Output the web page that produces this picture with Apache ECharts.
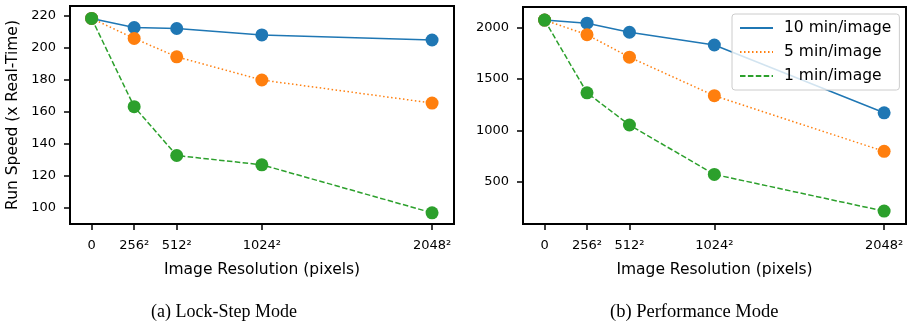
<!DOCTYPE html>
<html><head><meta charset="utf-8">
<script src="https://cdn.jsdelivr.net/npm/echarts@6/dist/echarts.min.js"></script>
<style>html,body{margin:0;padding:0;background:#fff}#c{width:908px;height:325px}</style>
</head><body><div id="c"></div>
<script>
const resolutions = [0, 256, 512, 1024, 2048];
const xTickLabels = ['0', '256²', '512²', '1024²', '2048²'];
const seriesNames = ['10 min/image', '5 min/image', '1 min/image'];
const lockStep10 = [218.5, 212.8, 212.2, 208.2, 205.0];
const lockStep5  = [218.5, 206.0, 194.5, 180.0, 165.6];
const lockStep1  = [218.5, 163.3, 132.8, 127.0, 97.0];
const perf10 = [2070, 2040, 1952, 1828, 1170];
const perf5  = [2070, 1928, 1710, 1336, 796];
const perf1  = [2070, 1364, 1052, 572, 216];
const leftYTicks = [100, 120, 140, 160, 180, 200, 220];
const rightYTicks = [500, 1000, 1500, 2000];
const captions = ['(a) Lock-Step Mode', '(b) Performance Mode'];

const colors = ['#1f77b4', '#ff7f0e', '#2ca02c'];
const dashes = ['solid', [1.5, 2.5], [5.5, 2.4]];
const font = 'DejaVu Sans';

function xAxis(gi) {
  return {
    type: 'value', gridIndex: gi, min: -130, max: 2180,
    name: 'Image Resolution (pixels)', nameLocation: 'middle', nameGap: 38,
    nameTextStyle: {fontFamily: font, fontSize: 15.5, color: '#000'},
    axisLine: {show: true, onZero: false, lineStyle: {color: '#000', width: 2}},
    axisTick: {show: true, inside: false, length: 6, lineStyle: {color: '#000', width: 1.5}, customValues: resolutions},
    axisLabel: {fontFamily: font, fontSize: 13, color: '#000', margin: 15,
      customValues: resolutions,
      formatter: v => xTickLabels[resolutions.indexOf(v)]},
    splitLine: {show: false}
  };
}
function yAxis(gi, min, max, ticks, name) {
  return {
    type: 'value', gridIndex: gi, min: min, max: max,
    name: name || '', nameLocation: 'middle', nameGap: 49,
    nameTextStyle: {fontFamily: font, fontSize: 15.5, color: '#000'},
    axisLine: {show: true, onZero: false, lineStyle: {color: '#000', width: 2}},
    axisTick: {show: true, inside: false, length: 6, lineStyle: {color: '#000', width: 1.5}, customValues: ticks},
    axisLabel: {fontFamily: font, fontSize: 13, color: '#000', margin: 14, customValues: ticks,
      formatter: v => String(v)},
    splitLine: {show: false}
  };
}
function series(gi, idx, vals) {
  return {
    type: 'line', name: seriesNames[idx], xAxisIndex: gi, yAxisIndex: gi,
    data: resolutions.map((r, i) => [r, vals[i]]),
    symbol: 'circle', symbolSize: 13,
    itemStyle: {color: colors[idx]},
    lineStyle: {color: colors[idx], width: 1.5, type: dashes[idx]},
    animation: false
  };
}

const chart = echarts.init(document.getElementById('c'));
chart.setOption({
  animation: false,
  grid: [
    {left: 70, top: 6, width: 384, height: 218, show: true, borderColor: '#000', borderWidth: 2, backgroundColor: 'transparent'},
    {left: 523, top: 7, width: 383, height: 217, show: true, borderColor: '#000', borderWidth: 2, backgroundColor: 'transparent'}
  ],
  xAxis: [xAxis(0), xAxis(1)],
  yAxis: [yAxis(0, 90, 226.25, leftYTicks, 'Run Speed (x Real-Time)'), yAxis(1, 91, 2197, rightYTicks)],
  legend: {
    left: 732, top: 14, orient: 'vertical', itemWidth: 33, itemHeight: 14, itemGap: 8,
    padding: [6, 8, 6, 7],
    backgroundColor: 'rgba(255,255,255,0.8)', borderColor: '#cccccc', borderWidth: 1, borderRadius: 3,
    textStyle: {fontFamily: font, fontSize: 15.5, color: '#000', padding: [0, 0, 0, 6]},
    itemStyle: {opacity: 0},
    data: seriesNames
  },
  series: [
    series(0, 0, lockStep10), series(0, 1, lockStep5), series(0, 2, lockStep1),
    series(1, 0, perf10), series(1, 1, perf5), series(1, 2, perf1)
  ],
  graphic: [
    {type: 'text', left: 151, top: 303, style: {text: captions[0], font: '18px "Liberation Serif"', fill: '#000'}},
    {type: 'text', left: 610, top: 303, style: {text: captions[1], font: '18.5px "Liberation Serif"', fill: '#000'}}
  ]
});
</script></body></html>
